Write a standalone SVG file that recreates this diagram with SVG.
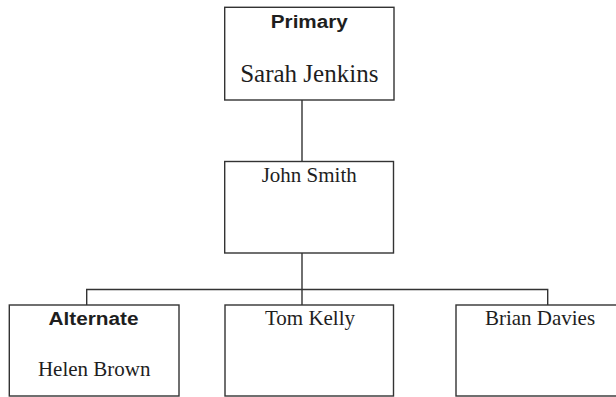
<svg xmlns="http://www.w3.org/2000/svg" width="616" height="397" viewBox="0 0 616 397">
  <style>
    .box { fill: #ffffff; stroke: #333333; stroke-width: 1.4; }
    .link { fill: none; stroke: #333333; stroke-width: 1.4; }
    .role { font-family: "Liberation Sans", Arial, sans-serif; font-weight: bold; font-size: 17.5px; fill: #1e1e1e; text-anchor: middle; }
    .name { font-family: "Liberation Serif", "Times New Roman", serif; font-size: 21px; fill: #1e1e1e; text-anchor: middle; }
    .big { font-size: 25px; }
  </style>
  <rect width="616" height="397" fill="#ffffff"/>

  <!-- connectors -->
  <g id="connectors">
    <line class="link" x1="302" y1="100" x2="302" y2="161.5"/>
    <line class="link" x1="302" y1="253" x2="302" y2="305"/>
    <polyline class="link" points="86.7,305 86.7,289.5 547.7,289.5 547.7,305"/>
  </g>

  <!-- nodes -->
  <g id="primary">
    <rect class="box" x="224.7" y="7.3" width="169.3" height="92.7"/>
    <text class="role" x="309.3" y="28.3" textLength="77" lengthAdjust="spacingAndGlyphs">Primary</text>
    <text class="name big" x="309.3" y="81.7">Sarah Jenkins</text>
  </g>

  <g id="john-smith">
    <rect class="box" x="224.7" y="161.5" width="168.8" height="91.5"/>
    <text class="name" x="309.2" y="181.7">John Smith</text>
  </g>

  <g id="alternate">
    <rect class="box" x="9.3" y="305" width="169.7" height="91"/>
    <text class="role" x="93.5" y="325" textLength="90" lengthAdjust="spacingAndGlyphs">Alternate</text>
    <text class="name" x="94.2" y="376">Helen Brown</text>
  </g>

  <g id="tom-kelly">
    <rect class="box" x="225" y="305" width="168.5" height="91"/>
    <text class="name" x="310" y="325">Tom Kelly</text>
  </g>

  <g id="brian-davies">
    <rect class="box" x="456" y="305" width="169" height="91"/>
    <text class="name" x="540" y="325">Brian Davies</text>
  </g>
</svg>
